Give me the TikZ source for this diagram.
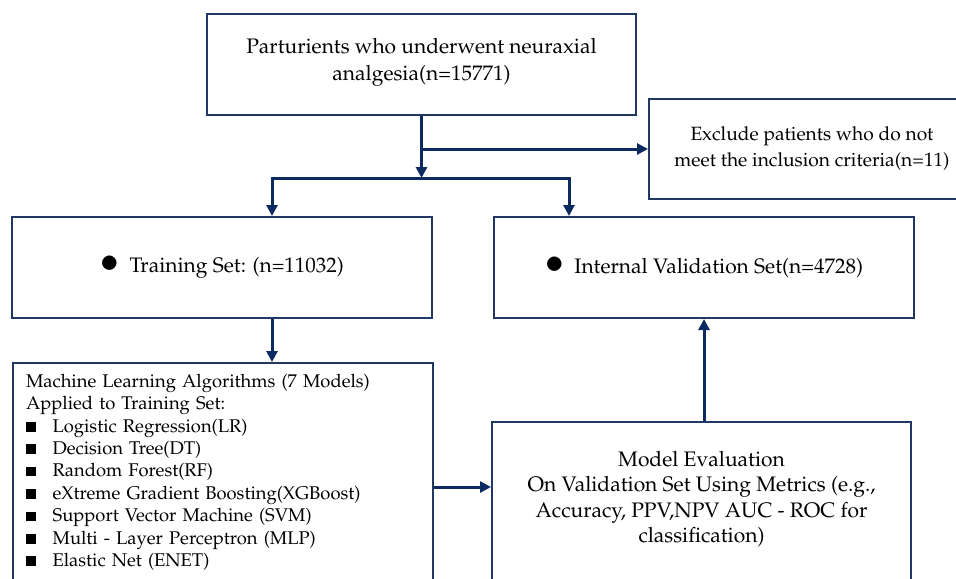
\documentclass[tikz,border=0pt]{standalone}
\usepackage[T1]{fontenc}
\usepackage{mathpazo}
\usepackage{tikz}
\usetikzlibrary{arrows.meta, positioning, calc}

\definecolor{boxblue}{HTML}{203864}
\definecolor{flowblue}{HTML}{0C2A62}

\begin{document}
\begin{tikzpicture}[
    x=0.5pt, y=-0.5pt,
    >={Triangle[length=5.5pt, width=5.5pt]},
    stagebox/.style={draw=boxblue, line width=1pt, rectangle, fill=white, inner sep=4pt, align=center, font=\fontsize{10.5}{13}\selectfont},
    listbox/.style={draw=boxblue, line width=1pt, rectangle, fill=white, inner xsep=6.5pt, inner ysep=5.5pt, align=left, text width=197pt, font=\fontsize{9.2}{11.2}\selectfont},
    flow/.style={->, line width=1.5pt, flowblue}
]
    \clip (0,0) rectangle (956,578);

    \node[stagebox, minimum width=214.5pt, minimum height=50.5pt, text depth=5.5pt, font=\fontsize{10.5}{13.5}\selectfont] (Cohort)  at (421.5,64.5) {Parturients who underwent neuraxial\\analgesia(n=15771)};
    \node[stagebox, minimum width=163pt,   minimum height=50pt, font=\fontsize{9.6}{13}\selectfont] (Exclude) at (812,149) {Exclude patients who do not\\meet the inclusion criteria(n=11)};
    \node[stagebox, minimum width=210pt,   minimum height=50.5pt] (TrainSet) at (222,267.5) {\scalebox{1.7}{$\bullet$}\hspace{5pt}Training Set: (n=11032)};
    \node[stagebox, minimum width=210pt,   minimum height=50.5pt] (ValSet)   at (704,267.5) {\scalebox{1.7}{$\bullet$}\hspace{5pt}Internal Validation Set(n=4728)};

    \node[listbox, anchor=north west] (MLAlgo) at (12,362) {Machine Learning Algorithms (7 Models)\\Applied to Training Set:\\
        \rule[0.3pt]{4.8pt}{4.8pt}\hspace{8.5pt}Logistic Regression(LR)\\
        \rule[0.3pt]{4.8pt}{4.8pt}\hspace{8.5pt}Decision Tree(DT)\\
        \rule[0.3pt]{4.8pt}{4.8pt}\hspace{8.5pt}Random Forest(RF)\\
        \rule[0.3pt]{4.8pt}{4.8pt}\hspace{8.5pt}eXtreme Gradient Boosting(XGBoost)\\
        \rule[0.3pt]{4.8pt}{4.8pt}\hspace{8.5pt}Support Vector Machine (SVM)\\
        \rule[0.3pt]{4.8pt}{4.8pt}\hspace{8.5pt}Multi - Layer Perceptron (MLP)\\
        \rule[0.3pt]{4.8pt}{4.8pt}\hspace{8.5pt}Elastic Net (ENET)};

    \node[stagebox, anchor=north, minimum width=209.5pt, inner ysep=14.5pt, text depth=55pt, font=\fontsize{10.5}{12.75}\selectfont] (ModelEval) at (701.5,421)
        {Model Evaluation\\On Validation Set Using Metrics (e.g.,\\Accuracy, PPV,NPV AUC - ROC for\\classification)};

    \coordinate (Split) at (Cohort.south |- 0,178);

    \draw[flow] (Cohort.south) -- (Split);
    \draw[flow] (Cohort.south |- Exclude.west) -- (Exclude.west);
    \draw[flow] (Split) -| ([xshift=25pt]TrainSet.north);
    \draw[flow] (Split) -| ([xshift=-67.5pt]ValSet.north);
    \draw[flow] ([xshift=25pt]TrainSet.south) -- ([xshift=25pt]TrainSet.south |- MLAlgo.north);
    \draw[flow] (MLAlgo.east |- 0,487) -- (ModelEval.west |- 0,487);
    \draw[flow] (ValSet.south |- ModelEval.north) -- (ValSet.south);

\end{tikzpicture}
\end{document}
